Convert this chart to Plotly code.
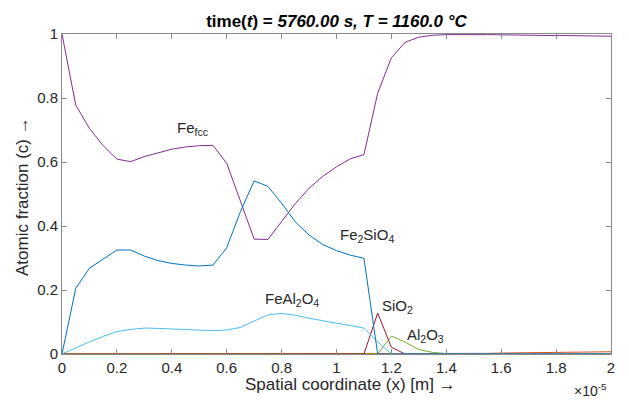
import plotly.graph_objects as go

# spatial coordinate in units of 1e-5 m
x = [round(0.05 * i, 2) for i in range(41)]

fe_fcc = [1.0, 0.778, 0.705, 0.651, 0.609, 0.601, 0.617, 0.629, 0.640, 0.647,
          0.651, 0.652, 0.596, 0.478, 0.359, 0.358, 0.415, 0.470, 0.518, 0.555,
          0.585, 0.610, 0.623, 0.815, 0.926, 0.974, 0.990, 0.996, 0.998, 0.999,
          0.998, 0.998, 0.997, 0.997, 0.996, 0.996, 0.995, 0.995, 0.994, 0.994, 0.993]

fe2sio4 = [0.0, 0.205, 0.268, 0.297, 0.325, 0.325, 0.306, 0.292, 0.283, 0.278,
           0.275, 0.278, 0.332, 0.445, 0.541, 0.524, 0.471, 0.413, 0.372, 0.342,
           0.323, 0.309, 0.299, 0.0, 0.0, 0.0, 0.0, 0.0, 0.0, 0.0,
           0.0, 0.0, 0.0, 0.0, 0.0, 0.0, 0.0, 0.0, 0.0, 0.0, 0.0]

feal2o4 = [0.0, 0.020, 0.038, 0.055, 0.070, 0.077, 0.081, 0.080, 0.078, 0.075,
           0.073, 0.073, 0.075, 0.083, 0.103, 0.122, 0.127, 0.121, 0.112, 0.103,
           0.096, 0.089, 0.081, 0.038, 0.0, 0.0, 0.0, 0.0, 0.0, 0.0,
           0.0, 0.0, 0.0, 0.0, 0.0, 0.0, 0.0, 0.0, 0.0, 0.0, 0.0]

sio2 = [0.0] * 22 + [0.0, 0.128, 0.021, 0.0] + [0.0] * 15

al2o3 = [0.0] * 22 + [0.0, 0.0, 0.056, 0.037, 0.014, 0.005, 0.001, 0.0] + [0.0] * 11

other = [0.0] * 29 + [0.0005, 0.0015, 0.002, 0.003, 0.0035, 0.004, 0.0045, 0.005,
                      0.0055, 0.006, 0.0065, 0.007]

series = [
    ("other", other, "#D95319"),
    ("Al2O3", al2o3, "#77AC30"),
    ("SiO2", sio2, "#A2142F"),
    ("Fe_fcc", fe_fcc, "#7E2F8E"),
    ("FeAl2O4", feal2o4, "#4DBEEE"),
    ("Fe2SiO4", fe2sio4, "#0072BD"),
]

fig = go.Figure()
for name, vals, col in series:
    fig.add_trace(go.Scatter(x=x, y=vals, mode="lines", name=name,
                             line=dict(color=col, width=1), showlegend=False))

labels = [
    ("Fe<sub>fcc</sub>", 0.412, 0.706),
    ("Fe<sub>2</sub>SiO<sub>4</sub>", 1.006, 0.369),
    ("FeAl<sub>2</sub>O<sub>4</sub>", 0.733, 0.169),
    ("SiO<sub>2</sub>", 1.158, 0.148),
    ("Al<sub>2</sub>O<sub>3</sub>", 1.25, 0.059),
]
for txt, lx, ly in labels:
    fig.add_annotation(x=lx, y=ly, text=txt, showarrow=False, xanchor="left",
                       yanchor="middle", font=dict(size=15, color="#262626"))

axis_common = dict(showline=True, linecolor="#8a8a8a", linewidth=1, mirror="ticks",
                   ticks="inside", ticklen=5, tickcolor="#8a8a8a", showgrid=False,
                   zeroline=False, tickfont=dict(size=15, color="#262626"))

fig.update_xaxes(range=[0, 2], dtick=0.2, tick0=0, **axis_common)
fig.update_yaxes(range=[0, 1], dtick=0.2, tick0=0, **axis_common)

fig.add_annotation(xref="paper", yref="paper", x=0.5, y=-0.094, yanchor="middle",
                   text="Spatial coordinate (x) [m] \u2192", showarrow=False,
                   xshift=14, font=dict(size=17, color="#262626"))
fig.add_annotation(xref="paper", yref="paper", x=0, y=0.5, xanchor="center",
                   text="Atomic fraction (c) \u2192", showarrow=False, textangle=-90,
                   xshift=-40, yshift=-3, font=dict(size=17, color="#262626"))
fig.add_annotation(xref="paper", yref="paper", x=1, y=-0.112, xanchor="right",
                   yanchor="middle", text="\u00d710<sup>-5</sup>", showarrow=False,
                   xshift=-2, font=dict(size=14, color="#262626"))

fig.update_layout(
    width=629, height=401,
    margin=dict(l=62, r=18, t=34, b=47),
    paper_bgcolor="white", plot_bgcolor="white",
    font=dict(family="Arial, Liberation Sans, sans-serif"),
    title=dict(text="<b>time(<i>t</i>) = <i>5760.00 s, T = 1160.0 \u00b0C</i></b>",
               x=0.5, xanchor="center", xref="paper", y=0.948, yanchor="middle",
               font=dict(size=17, color="#000000")),
)

fig.write_html("out.html")
